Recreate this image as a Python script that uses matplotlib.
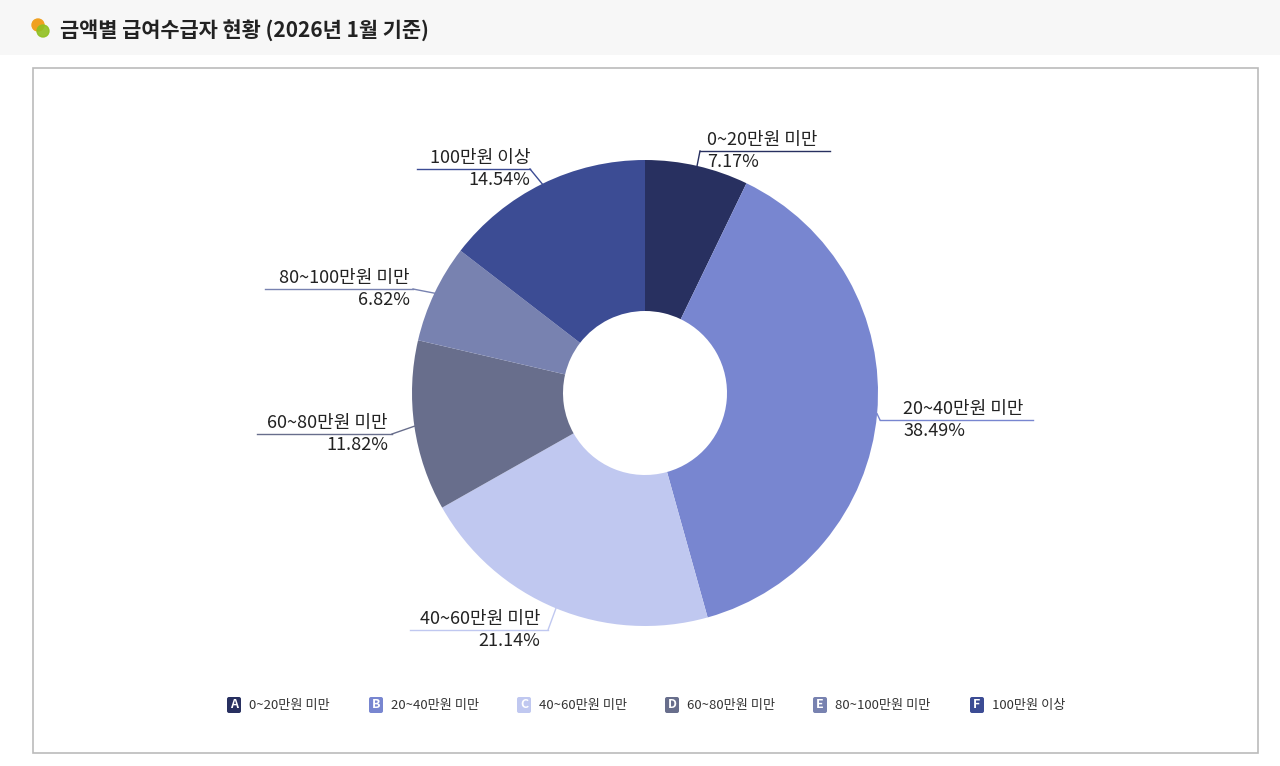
import numpy as np
import matplotlib
matplotlib.use("Agg")
import matplotlib.pyplot as plt
from matplotlib.patches import Rectangle, Circle, FancyBboxPatch

plt.rcParams['font.family'] = ['Noto Sans CJK KR', 'DejaVu Sans']

categories = ["0~20만원 미만", "20~40만원 미만", "40~60만원 미만", "60~80만원 미만", "80~100만원 미만", "100만원 이상"]
values = [7.17, 38.49, 21.14, 11.82, 6.82, 14.54]
letters = ["A", "B", "C", "D", "E", "F"]
colors = ["#283060", "#7886d0", "#c0c8f0", "#686e8c", "#7882b0", "#3c4c94"]
title = "금액별 급여수급자 현황 (2026년 1월 기준)"

W, H = 1280, 766
fig = plt.figure(figsize=(12.8, 7.66), dpi=100)
ax = fig.add_axes([0, 0, 1, 1])
ax.set_xlim(0, W); ax.set_ylim(0, H); ax.axis('off')
Y = lambda y: H - y

# top band
ax.add_patch(Rectangle((0, Y(55)), W, 55, color="#f7f7f7", lw=0, zorder=0))
ax.add_patch(Rectangle((33, Y(753)), 1225, 685, fill=False, ec="#bbbbbb", lw=1.2))
ax.add_patch(Circle((38, Y(25)), 6, color="#f0a020", zorder=2))
ax.add_patch(Circle((43, Y(31)), 6, color="#90c020", alpha=0.9, zorder=3))
ax.text(60, Y(30), title, fontsize=15, fontweight='bold', color="#222222", va='center', ha='left')

cx, cy, R, r = 645, Y(393), 233, 82
wedges, _ = ax.pie(values, colors=colors, startangle=90, counterclock=False,
                   radius=R, center=(cx, cy), frame=True,
                   wedgeprops=dict(width=R - r, edgecolor='none'))
ax.set_xlim(0, W); ax.set_ylim(0, H); ax.set_aspect('equal'); ax.axis('off')

# label layout: (text x, ha, line1 y, underline x0, x1, connector end x side)
lay = [
    (707, 'left', 140, 700, 830, 700),
    (903, 'left', 409, 880, 1033, 880),
    (540, 'right', 619, 410, 548, 548),
    (388, 'right', 423, 257, 392, 392),
    (410, 'right', 278, 265, 413, 413),
    (530, 'right', 158, 417, 530, 530),
]
total = sum(values)
cum = 0
for i, v in enumerate(values):
    mid = 90 - (cum + v / 2) / total * 360
    cum += v
    ex = cx + R * np.cos(np.radians(mid))
    ey = cy + R * np.sin(np.radians(mid))
    tx, ha, y1, u0, u1, cxp = lay[i]
    uy = Y(y1 + 11)
    ax.text(tx, Y(y1), categories[i], fontsize=13, ha=ha, va='center', color="#222222")
    ax.text(tx, Y(y1 + 22), f"{v:.2f}%", fontsize=13, ha=ha, va='center', color="#222222")
    ax.plot([u0, u1], [uy, uy], color=colors[i], lw=1)
    ax.plot([cxp, ex], [uy, ey], color=colors[i], lw=1)

# legend
lx = [234, 376, 524, 672, 820, 977]
for i in range(6):
    ax.add_patch(FancyBboxPatch((lx[i] - 7, Y(705) - 8), 14, 16,
                                boxstyle="round,pad=0,rounding_size=2", color=colors[i], lw=0))
    ax.text(lx[i], Y(705), letters[i], fontsize=9, fontweight='bold', color='white', ha='center', va='center')
    ax.text(lx[i] + 15, Y(705), categories[i], fontsize=9.5, color="#333333", ha='left', va='center')

fig.savefig("out.png", dpi=100)
